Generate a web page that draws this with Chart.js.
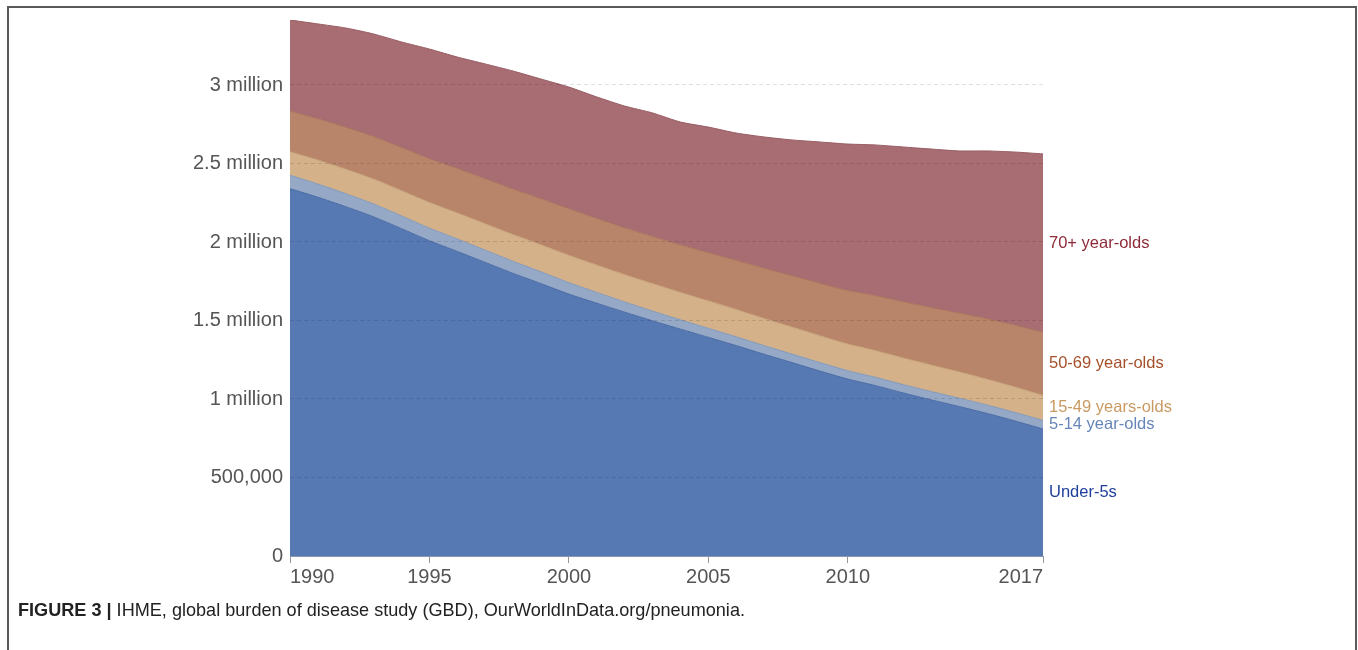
<!DOCTYPE html>
<html>
<head>
<meta charset="utf-8">
<script src="https://cdn.jsdelivr.net/npm/chart.js@4.4.1/dist/chart.umd.min.js"></script>
<style>
  html, body { margin: 0; padding: 0; background: #fff; overflow: hidden; }
  body { width: 1358px; height: 650px; position: relative; }
  .frame { position: absolute; left: 7px; top: 6px; width: 1346px; height: 700px;
           border: 2px solid #5a5a5a; border-bottom: none; }
  .chart-box { position: absolute; left: 0; top: 0; width: 1358px; height: 600px; }
  .caption { position: absolute; left: 18px; top: 599px; font-size: 19px; color: #222;
             font-family: "Liberation Sans", Arial, sans-serif;
             white-space: nowrap; transform-origin: 0 0; }
  .caption b { font-weight: bold; }
</style>
</head>
<body>
<div class="frame"></div>
<div class="chart-box"><canvas id="pneumoniaChart"></canvas></div>
<div class="caption" id="caption"><b>FIGURE 3 |</b> IHME, global burden of disease study (GBD), OurWorldInData.org/pneumonia.</div>
<script>
// Données
const years = [1990, 1991, 1992, 1993, 1994, 1995, 1996, 1997, 1998, 1999, 2000, 2001, 2002, 2003,
               2004, 2005, 2006, 2007, 2008, 2009, 2010, 2011, 2012, 2013, 2014, 2015, 2016, 2017];
const under5 = [2340000, 2285000, 2225000, 2160000, 2085000, 2008000, 1940000, 1870000, 1800000, 1735000,
                1668000, 1610000, 1553000, 1498000, 1445000, 1393000, 1340000, 1285000, 1232000, 1178000,
                1127000, 1085000, 1038000, 994000, 952000, 908000, 860000, 809000];
const age5to14 = [85000, 84000, 83000, 82000, 81000, 80000, 79000, 78000, 77000, 75000,
                  73000, 69000, 65000, 62000, 59000, 57000, 56000, 55000, 54000, 54000,
                  53000, 53000, 53000, 53000, 53000, 53000, 54000, 55000];
const age15to49 = [150000, 153000, 156000, 159000, 161000, 164000, 166000, 168000, 170000, 172000,
                   174000, 174000, 174000, 175000, 175000, 175000, 174000, 173000, 172000, 171000,
                   170000, 170000, 170000, 169000, 167000, 165000, 162000, 159000];
const age50to69 = [259000, 263000, 267000, 271000, 275000, 279000, 283000, 287000, 290000, 294000,
                   297000, 297000, 298000, 300000, 303000, 307000, 313000, 320000, 327000, 334000,
                   341000, 350000, 358000, 366000, 375000, 385000, 394000, 403000];
const age70plus = [580000, 604000, 632000, 653000, 672000, 698000, 710000, 731000, 752000, 762000,
                   775000, 774000, 776000, 787000, 782000, 800000, 811000, 836000, 865000, 900000,
                   933000, 960000, 986000, 1010000, 1033000, 1069000, 1103000, 1135000];

const xTickYears = [1990, 1995, 2000, 2005, 2010, 2017];
const yTickValues = [0, 500000, 1000000, 1500000, 2000000, 2500000, 3000000];
const yTickLabels = ['0', '500,000', '1 million', '1.5 million', '2 million', '2.5 million', '3 million'];

const seriesNames = ['Under-5s', '5-14 year-olds', '15-49 years-olds', '50-69 year-olds', '70+ year-olds'];
const seriesValues = [under5, age5to14, age15to49, age50to69, age70plus];
const fillColors = ['#5679b4', '#95a9c7', '#d4b189', '#b8846a', '#a86c73'];
const lineColors = ['#4a69a3', '#8398b8', '#c49f76', '#a7735a', '#985c63'];
const labelColors = ['#1f3f9c', '#6685b8', '#c99a62', '#a5502a', '#8e2a38'];

const fontFamily = '"Liberation Sans", Arial, Helvetica, sans-serif';

// Légende condensée comme dans la figure
const cap = document.getElementById('caption');
cap.style.transform = 'scaleX(' + (727 / cap.getBoundingClientRect().width) + ')';

const ctx = document.getElementById('pneumoniaChart').getContext('2d');

// Étiquettes à droite, au milieu de chaque couche pour la dernière année
const endLabels = {
    id: 'endLabels',
    afterDatasetsDraw(chart) {
        const c = chart.ctx;
        let prev = chart.scales.y.getPixelForValue(0);
        c.save();
        c.font = '16.5px ' + fontFamily;
        c.textAlign = 'left';
        c.textBaseline = 'middle';
        chart.data.datasets.forEach((ds, i) => {
            const meta = chart.getDatasetMeta(i);
            const pt = meta.data[meta.data.length - 1];
            c.fillStyle = labelColors[i];
            c.fillText(ds.label, chart.chartArea.right + 6, (pt.y + prev) / 2);
            prev = pt.y;
        });
        c.restore();
    }
};

const chart = new Chart(ctx, {
    type: 'line',
    data: {
        datasets: seriesNames.map((name, i) => ({
            label: name,
            data: years.map((yr, k) => ({ x: yr, y: seriesValues[i][k] })),
            backgroundColor: fillColors[i],
            borderColor: lineColors[i],
            borderWidth: 1,
            fill: i === 0 ? 'origin' : '-1',
            tension: 0.2,
            pointRadius: 0
        }))
    },
    options: {
        responsive: true,
        maintainAspectRatio: false,
        animation: false,
        layout: { padding: { top: 20, right: 315, left: 0, bottom: 0 } },
        plugins: {
            legend: { display: false },
            tooltip: { enabled: false }
        },
        scales: {
            x: {
                type: 'linear',
                min: 1990,
                max: 2017,
                afterBuildTicks: (scale) => { scale.ticks = xTickYears.map(v => ({ value: v })); },
                afterFit: (scale) => { scale.height = 44; },
                grid: {
                    drawOnChartArea: false,
                    drawTicks: true,
                    tickLength: 7,
                    color: '#9a9a9a'
                },
                border: { display: true, color: '#8a96ad', width: 1 },
                ticks: {
                    align: 'inner',
                    padding: 2,
                    color: '#555',
                    maxRotation: 0,
                    font: { family: fontFamily, size: 20 },
                    callback: (v) => String(v)
                }
            },
            y: {
                stacked: true,
                min: 0,
                max: 3414000,
                afterBuildTicks: (scale) => { scale.ticks = yTickValues.map(v => ({ value: v })); },
                afterFit: (scale) => { scale.width = 290; },
                grid: {
                    z: 1, // lignes pointillées par-dessus les aires
                    drawTicks: false,
                    color: (c) => c.tick && c.tick.value === 0 ? 'rgba(0,0,0,0)' : 'rgba(0,0,0,0.12)'
                },
                border: { display: false, dash: [4, 3] },
                ticks: {
                    padding: 7,
                    color: '#555',
                    font: { family: fontFamily, size: 20 },
                    callback: (v) => {
                        const idx = yTickValues.indexOf(v);
                        return idx >= 0 ? yTickLabels[idx] : '';
                    }
                }
            }
        }
    },
    plugins: [endLabels]
});
</script>
</body>
</html>
